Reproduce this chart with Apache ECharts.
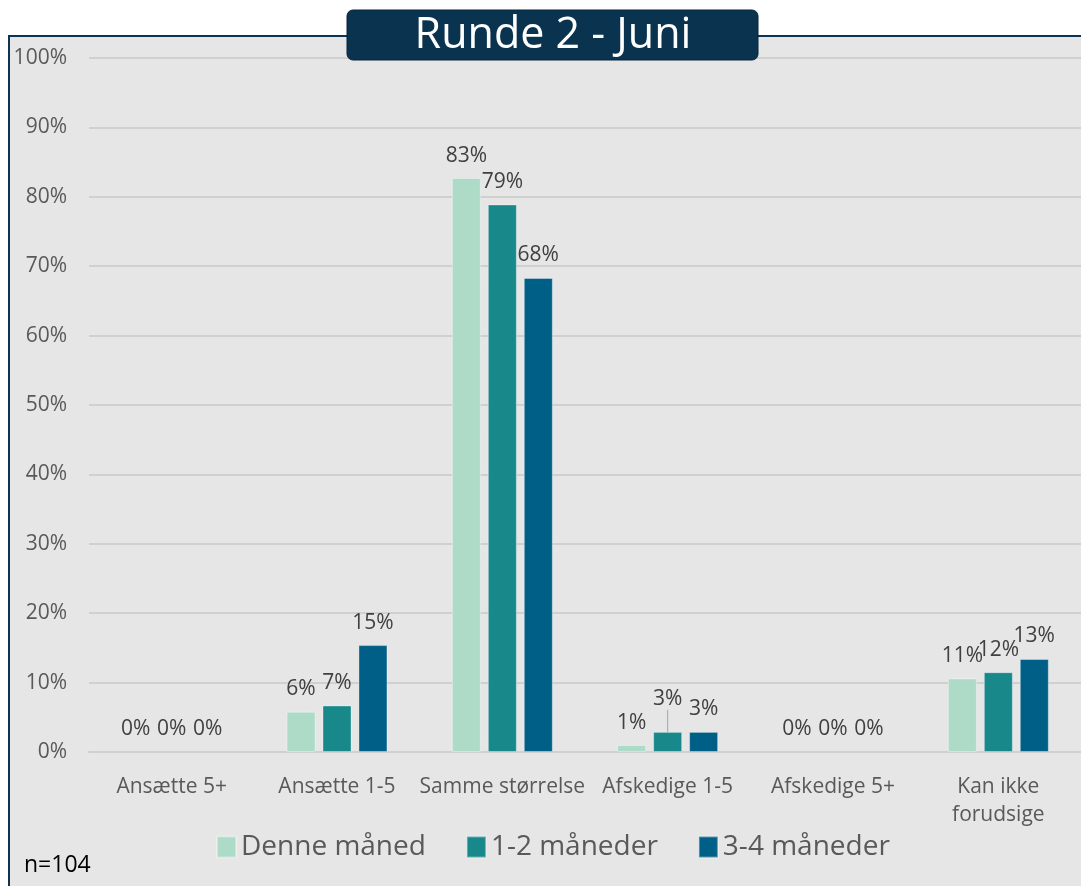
<!DOCTYPE html>
<html>
<head>
<meta charset="utf-8">
<script src="https://cdn.jsdelivr.net/npm/echarts@6/dist/echarts.min.js"></script>
<style>
  html, body { margin: 0; padding: 0; background: #fff; }
  #chart { width: 1081px; height: 886px; }
</style>
</head>
<body>
<div id="chart"></div>
<script>
// kategorier og serier
var categories = ['Ansætte 5+', 'Ansætte 1-5', 'Samme størrelse', 'Afskedige 1-5', 'Afskedige 5+', 'Kan ikke\nforudsige'];
var seriesNames = ['Denne måned', '1-2 måneder', '3-4 måneder'];
var denneMaaned = [0, 5.8, 82.7, 1.0, 0, 10.6];
var maaneder12 = [0, 6.7, 78.9, 2.9, 0, 11.5];
var maaneder34 = [0, 15.4, 68.3, 2.9, 0, 13.4];
var yTicks = [0, 10, 20, 30, 40, 50, 60, 70, 80, 90, 100];
var colors = ['#addbc8', '#18888a', '#005f86'];
var font = '"Open Sans", Lato, sans-serif';

var chart = echarts.init(document.getElementById('chart'));

function makeSeries(name, values, idx) {
  var s = {
    name: name,
    type: 'bar',
    barWidth: 29,
    barGap: '24%',
    data: values.map(function (v, i) {
      var item = { value: v };
      if (v === 0) item.itemStyle = { borderWidth: 0 };
      // leader line on the 1-2 måneder label for Afskedige 1-5
      if (idx === 1 && i === 3) item.labelLine = { show: true };
      return item;
    }),
    itemStyle: { color: colors[idx], borderColor: 'rgba(255,255,255,0.35)', borderWidth: 1 },
    labelLine: { show: false, lineStyle: { color: '#a6a6a6', width: 1 } },
    label: {
      show: true,
      position: 'top',
      distance: 12,
      fontFamily: font,
      fontSize: 21,
      color: '#404040',
      formatter: function (p) { return Math.round(p.value) + '%'; }
    }
  };
  if (idx === 1) {
    s.labelLayout = function (p) {
      if (p.dataIndex === 3) return { dy: -10 };
      return {};
    };
  }
  return s;
}

chart.setOption({
  backgroundColor: '#ffffff',
  animation: false,
  textStyle: { fontFamily: font },
  graphic: [
    {
      type: 'rect', z: -10, silent: true,
      shape: { x: 9, y: 36, width: 1090, height: 870 },
      style: { fill: '#e6e6e6', stroke: '#0b3552', lineWidth: 2 }
    },
    {
      type: 'rect', z: 100,
      shape: { x: 347, y: 10, width: 411, height: 50, r: 6 },
      style: { fill: '#0a3350', stroke: '#062538', lineWidth: 1 }
    },
    {
      type: 'text', z: 101, x: 553, y: 14,
      style: { text: 'Runde 2 - Juni', fill: '#ffffff', fontFamily: font, fontSize: 43, align: 'center' }
    },
    {
      type: 'text', z: 101, left: 24, top: 854,
      style: { text: 'n=104', fill: '#000000', fontFamily: font, fontSize: 23 }
    }
  ],
  grid: { left: 89, top: 58, width: 997, height: 694 },
  legend: {
    data: seriesNames,
    bottom: 20,
    left: 211,
    itemWidth: 19,
    itemHeight: 21,
    itemGap: 40,
    icon: 'rect',
    textStyle: { fontFamily: font, fontSize: 28, color: '#595959' }
  },
  xAxis: {
    type: 'category',
    data: categories,
    axisTick: { show: false },
    axisLine: { show: true, lineStyle: { color: '#d0d0d0', width: 2 } },
    axisLabel: { interval: 0, fontFamily: font, fontSize: 21, color: '#595959', margin: 21, lineHeight: 28 }
  },
  yAxis: {
    type: 'value',
    min: yTicks[0],
    max: yTicks[yTicks.length - 1],
    interval: 10,
    axisLine: { show: false },
    axisTick: { show: false },
    splitLine: { lineStyle: { color: '#d0d0d0', width: 2 } },
    axisLabel: { fontFamily: font, fontSize: 21, color: '#595959', margin: 22, formatter: '{value}%' }
  },
  series: [
    makeSeries(seriesNames[0], denneMaaned, 0),
    makeSeries(seriesNames[1], maaneder12, 1),
    makeSeries(seriesNames[2], maaneder34, 2)
  ]
});
</script>
</body>
</html>
